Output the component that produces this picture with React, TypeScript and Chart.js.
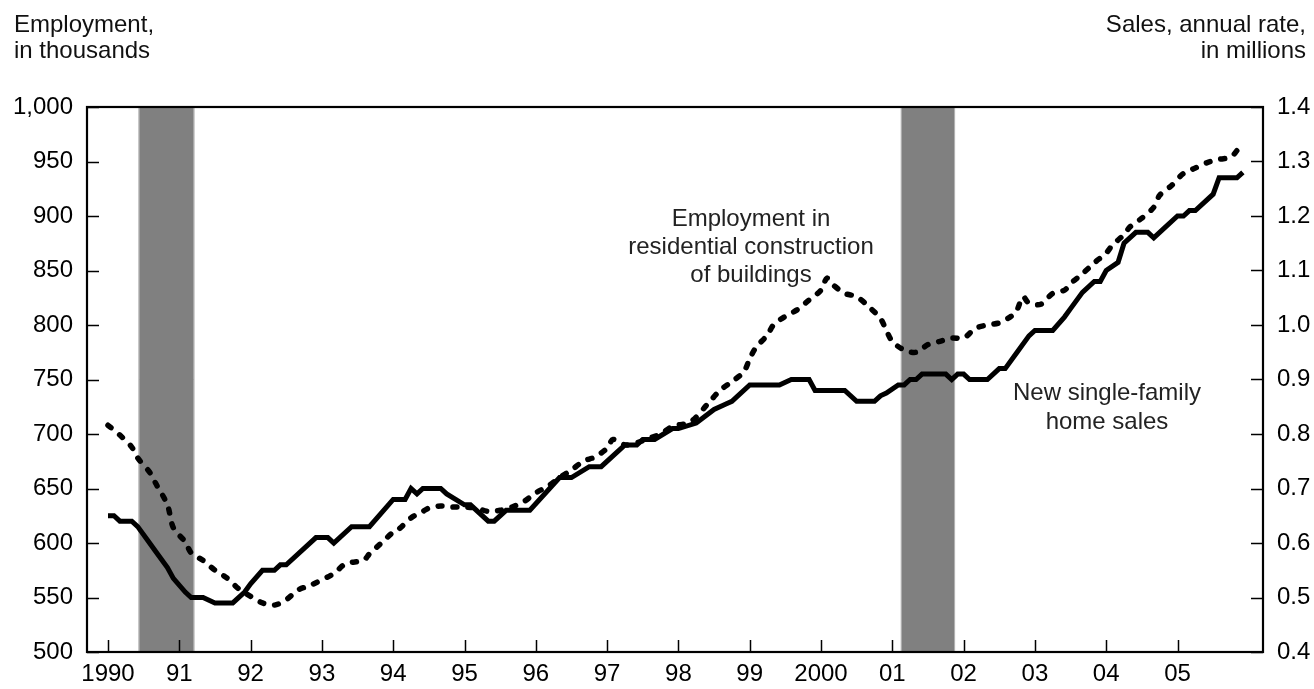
import React, { useEffect, useRef } from "react";
import { Chart, registerables } from "chart.js";

Chart.register(...registerables);

// ---------- data ----------
const yearTicks = [1990, 1991, 1992, 1993, 1994, 1995, 1996, 1997, 1998, 1999, 2000, 2001, 2002, 2003, 2004, 2005];
const yearLabels = ["1990", "91", "92", "93", "94", "95", "96", "97", "98", "99", "2000", "01", "02", "03", "04", "05"];
const employmentTicks = [500, 550, 600, 650, 700, 750, 800, 850, 900, 950, 1000];
const salesTicks = [0.4, 0.5, 0.6, 0.7, 0.8, 0.9, 1.0, 1.1, 1.2, 1.3, 1.4];

// New single-family home sales, annual rate, millions (monthly)
const salesDates = [
  "1990-01", "1990-02", "1990-03", "1990-05", "1990-06", "1990-08", "1990-09", "1990-11", "1990-12",
  "1991-02", "1991-03", "1991-05", "1991-07", "1991-10", "1991-12",
  "1992-01", "1992-03", "1992-05", "1992-06", "1992-07", "1992-12",
  "1993-02", "1993-03", "1993-06", "1993-09",
  "1994-01", "1994-03", "1994-04", "1994-05", "1994-06", "1994-09", "1994-10",
  "1995-01", "1995-02", "1995-05", "1995-06", "1995-08", "1995-12",
  "1996-05", "1996-07", "1996-10", "1996-12",
  "1997-03", "1997-04", "1997-06", "1997-07", "1997-09", "1997-12",
  "1998-01", "1998-04", "1998-07", "1998-09", "1998-10",
  "1999-01", "1999-06", "1999-08", "1999-11", "1999-12",
  "2000-05", "2000-07", "2000-10", "2000-11", "2000-12",
  "2001-02", "2001-03", "2001-04", "2001-05", "2001-06", "2001-10", "2001-11", "2001-12",
  "2002-01", "2002-02", "2002-05", "2002-07", "2002-08", "2002-10", "2002-12",
  "2003-01", "2003-04", "2003-06", "2003-07", "2003-09", "2003-11", "2003-12",
  "2004-01", "2004-03", "2004-04", "2004-06", "2004-08", "2004-09", "2004-11",
  "2005-01", "2005-02", "2005-03", "2005-04", "2005-07", "2005-08", "2005-09", "2005-11", "2005-12",
];
const salesValues = [
  0.65, 0.65, 0.64, 0.64, 0.63, 0.60, 0.585, 0.555, 0.535,
  0.51, 0.50, 0.50, 0.49, 0.49, 0.51,
  0.525, 0.55, 0.55, 0.56, 0.56, 0.61,
  0.61, 0.60, 0.63, 0.63,
  0.68, 0.68, 0.70, 0.69, 0.70, 0.70, 0.69,
  0.67, 0.67, 0.64, 0.64, 0.66, 0.66,
  0.72, 0.72, 0.74, 0.74,
  0.77, 0.78, 0.78, 0.79, 0.79, 0.81,
  0.81, 0.82, 0.845, 0.855, 0.86,
  0.89, 0.89, 0.90, 0.90, 0.88,
  0.88, 0.86, 0.86, 0.87, 0.875,
  0.89, 0.89, 0.90, 0.90, 0.91, 0.91, 0.90, 0.91,
  0.91, 0.90, 0.90, 0.92, 0.92, 0.95, 0.98,
  0.99, 0.99, 1.015, 1.03, 1.06, 1.08, 1.08,
  1.10, 1.115, 1.15, 1.17, 1.17, 1.16, 1.18,
  1.20, 1.20, 1.21, 1.21, 1.24, 1.27, 1.27, 1.27, 1.28,
];

// Employment in residential construction of buildings, thousands (monthly)
const employmentDates = [
  "1990-01", "1990-03", "1990-05", "1990-06", "1990-08", "1990-09", "1990-11", "1990-12",
  "1991-02", "1991-03", "1991-05", "1991-07", "1991-09", "1991-11",
  "1992-01", "1992-03", "1992-05", "1992-07", "1992-09", "1992-11",
  "1993-03", "1993-05", "1993-08", "1993-09", "1993-11",
  "1994-01", "1994-02", "1994-04", "1994-06", "1994-07", "1994-09", "1994-11",
  "1995-01", "1995-03", "1995-05", "1995-07", "1995-09", "1995-11",
  "1996-01", "1996-03", "1996-05", "1996-07", "1996-09", "1996-11",
  "1997-01", "1997-02", "1997-04", "1997-06", "1997-08", "1997-10", "1997-12",
  "1998-03", "1998-06", "1998-08", "1998-10", "1998-12",
  "1999-01", "1999-02", "1999-04", "1999-05", "1999-07", "1999-09", "1999-11",
  "2000-01", "2000-02", "2000-03", "2000-05", "2000-07", "2000-09", "2000-11", "2000-12",
  "2001-01", "2001-03", "2001-05", "2001-07", "2001-09", "2001-11",
  "2002-01", "2002-03", "2002-05", "2002-07", "2002-09", "2002-10", "2002-11", "2002-12",
  "2003-02", "2003-04", "2003-06", "2003-07", "2003-09", "2003-11",
  "2004-01", "2004-02", "2004-04", "2004-05", "2004-07", "2004-09", "2004-10", "2004-12",
  "2005-02", "2005-04", "2005-06", "2005-08", "2005-10", "2005-11", "2005-12",
];
const employmentValues = [
  708, 699, 688, 678, 665, 655, 635, 614,
  601, 591, 584, 575, 568, 558,
  551, 545, 543, 548, 557, 561,
  572, 581, 584, 590, 600,
  610, 613, 623, 629, 632, 634, 633,
  633, 632, 629, 630, 633, 638,
  646, 652, 660, 667, 675, 679,
  687, 695, 690, 692, 696, 700, 707,
  711, 728, 740, 748, 757,
  769, 779, 791, 800, 808, 814, 823,
  832, 843, 837, 829, 826, 817, 806, 795,
  785, 777, 775, 782, 785, 788,
  788, 797, 800, 802, 808, 814, 826, 820,
  819, 829, 832, 838, 847, 857,
  866, 873, 883, 890, 898, 908, 919, 928,
  939, 944, 949, 952, 954, 960, 966,
];

// Recessions (decimal years)
const recessionStarts = [1990.43, 2001.12];
const recessionEnds = [1991.21, 2001.88];

// ---------- helpers ----------
const FONT = "'Liberation Sans', Arial, Helvetica, sans-serif";
const toYear = (d: string) => {
  const [y, m] = d.split("-").map(Number);
  return y + (m - 1) / 12;
};
const toPoints = (dates: string[], values: number[]) =>
  dates.map((d, i) => ({ x: toYear(d), y: values[i] }));

const decorPlugin = {
  id: "decor",
  beforeDatasetsDraw(chart: any) {
    const { ctx, chartArea, scales } = chart;
    const { top, bottom } = chartArea;
    ctx.save();
    for (let i = 0; i < recessionStarts.length; i++) {
      const x0 = scales.x.getPixelForValue(recessionStarts[i]);
      const x1 = scales.x.getPixelForValue(recessionEnds[i]);
      ctx.fillStyle = "#808080";
      ctx.fillRect(x0, top, x1 - x0, bottom - top);
      ctx.strokeStyle = "#b4b4b4";
      ctx.lineWidth = 1;
      ctx.beginPath();
      ctx.moveTo(x0 + 0.5, top);
      ctx.lineTo(x0 + 0.5, bottom);
      ctx.moveTo(x1 - 0.5, top);
      ctx.lineTo(x1 - 0.5, bottom);
      ctx.stroke();
    }
    ctx.restore();
  },
  afterDraw(chart: any) {
    const { ctx, chartArea, scales } = chart;
    const { top, bottom, left, right } = chartArea;
    ctx.save();
    // tick marks (inside)
    ctx.strokeStyle = "#000";
    ctx.lineWidth = 1.5;
    ctx.beginPath();
    yearTicks.forEach((v) => {
      const px = Math.round(scales.x.getPixelForValue(v)) + 0.5;
      ctx.moveTo(px, bottom);
      ctx.lineTo(px, bottom - 12);
    });
    employmentTicks.forEach((v) => {
      const py = Math.round(scales.y.getPixelForValue(v)) + 0.5;
      ctx.moveTo(left, py);
      ctx.lineTo(left + 12, py);
    });
    salesTicks.forEach((v) => {
      const py = Math.round(scales.y1.getPixelForValue(v)) + 0.5;
      ctx.moveTo(right, py);
      ctx.lineTo(right - 12, py);
    });
    ctx.stroke();
    // frame
    ctx.lineWidth = 2.2;
    ctx.strokeRect(left, top, right - left, bottom - top);

    // axis titles
    ctx.fillStyle = "#111";
    ctx.font = `24px ${FONT}`;
    ctx.textBaseline = "alphabetic";
    ctx.textAlign = "left";
    ctx.fillText("Employment,", 14, 32);
    ctx.fillText("in thousands", 14, 58);
    ctx.textAlign = "right";
    ctx.fillText("Sales, annual rate,", 1306, 32);
    ctx.fillText("in millions", 1306, 58);

    // annotations
    ctx.fillStyle = "#222";
    ctx.textAlign = "center";
    ctx.fillText("Employment in", 751, 226);
    ctx.fillText("residential construction", 751, 254);
    ctx.fillText("of buildings", 751, 282);
    ctx.fillText("New single-family", 1107, 400);
    ctx.fillText("home sales", 1107, 429);
    ctx.restore();
  },
};

export default function App() {
  const canvasRef = useRef<HTMLCanvasElement>(null);

  useEffect(() => {
    if (!canvasRef.current) return;
    const chart = new Chart(canvasRef.current, {
      type: "line",
      data: {
        datasets: [
          {
            label: "New single-family home sales",
            data: toPoints(salesDates, salesValues),
            yAxisID: "y1",
            borderColor: "#000",
            borderWidth: 5,
            pointRadius: 0,
            tension: 0,
            fill: false,
          },
          {
            label: "Employment in residential construction of buildings",
            data: toPoints(employmentDates, employmentValues),
            yAxisID: "y",
            borderColor: "#000",
            borderWidth: 5.5,
            borderDash: [4, 11],
            borderCapStyle: "round",
            borderJoinStyle: "round",
            pointRadius: 0,
            tension: 0.3,
            fill: false,
          },
        ],
      },
      options: {
        animation: false,
        responsive: false,
        maintainAspectRatio: false,
        layout: { padding: { top: 107, left: 0, right: 0, bottom: 0 } },
        plugins: { legend: { display: false }, tooltip: { enabled: false } },
        scales: {
          x: {
            type: "linear",
            min: 1989.7055,
            max: 2006.199,
            afterBuildTicks: (s: any) => {
              s.ticks = yearTicks.map((v) => ({ value: v }));
            },
            afterFit: (s: any) => {
              s.height = 37;
            },
            grid: { display: false, drawTicks: false },
            border: { display: false },
            ticks: {
              autoSkip: false,
              maxRotation: 0,
              padding: 8,
              color: "#000",
              font: { family: FONT, size: 24 },
              callback: (v: any) => {
                const i = yearTicks.indexOf(Math.round(Number(v)));
                return i >= 0 ? yearLabels[i] : "";
              },
            },
          },
          y: {
            type: "linear",
            position: "left",
            min: 500,
            max: 1000,
            afterBuildTicks: (s: any) => {
              s.ticks = employmentTicks.map((v) => ({ value: v }));
            },
            afterFit: (s: any) => {
              s.width = 87;
            },
            grid: { display: false, drawTicks: false },
            border: { display: false },
            ticks: {
              padding: 14,
              color: "#000",
              font: { family: FONT, size: 24 },
              callback: (v: any) => Number(v).toLocaleString("en-US"),
            },
          },
          y1: {
            type: "linear",
            position: "right",
            min: 0.4,
            max: 1.4,
            afterBuildTicks: (s: any) => {
              s.ticks = salesTicks.map((v) => ({ value: v }));
            },
            afterFit: (s: any) => {
              s.width = 51;
            },
            grid: { display: false, drawTicks: false },
            border: { display: false },
            ticks: {
              padding: 14,
              color: "#000",
              font: { family: FONT, size: 24 },
              callback: (v: any) => Number(v).toFixed(1),
            },
          },
        },
      },
      plugins: [decorPlugin],
    } as any);
    return () => chart.destroy();
  }, []);

  return (
    <div style={{ position: "absolute", left: 0, top: 0, width: 1314, height: 689, background: "#fff" }}>
      <canvas ref={canvasRef} width={1314} height={689} style={{ display: "block" }} />
    </div>
  );
}
